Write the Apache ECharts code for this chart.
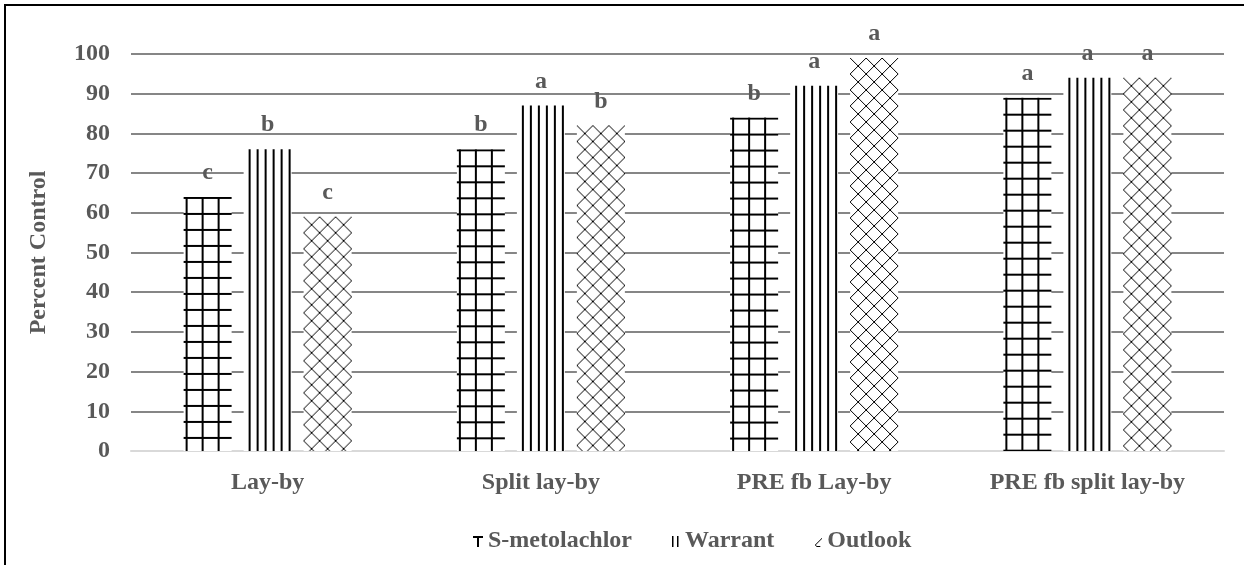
<!DOCTYPE html>
<html>
<head>
<meta charset="utf-8">
<script src="https://cdn.jsdelivr.net/npm/echarts@6/dist/echarts.min.js"></script>
<style>
  html, body { margin: 0; padding: 0; background: #fff; }
</style>
</head>
<body>
<div id="chart" style="width:1244px;height:565px"></div>
<script>
const categories = ['Lay-by', 'Split lay-by', 'PRE fb Lay-by', 'PRE fb split lay-by']
const seriesNames = ['S-metolachlor', 'Warrant', 'Outlook']
const sMetolachlor = [64, 76, 84, 89]
const warrant = [76, 87, 92, 94]
const outlook = [59, 82, 99, 94]
const sMetolachlorLetters = ['c', 'b', 'b', 'a']
const warrantLetters = ['b', 'a', 'a', 'a']
const outlookLetters = ['c', 'b', 'a', 'a']
const yMin = 0
const yMax = 100
const yInterval = 10

const FONT = "'Liberation Serif', 'Times New Roman', serif"
const TEXT_GRAY = '#595959'

function makeCanvas (w, h, draw) {
    const c = document.createElement('canvas')
    c.width = w
    c.height = h
    const ctx = c.getContext('2d')
    ctx.fillStyle = '#fff'
    ctx.fillRect(0, 0, w, h)
    ctx.fillStyle = '#000'
    draw(ctx)
    return c
}

// bar fill tiles (white ground, black strokes)
const gridTile = makeCanvas(16, 16, ctx => {
    ctx.fillRect(0, 0, 16, 2)
    ctx.fillRect(2, 0, 2, 16)
})
const stripeTile = makeCanvas(8, 8, ctx => {
    ctx.fillRect(5, 0, 2, 8)
})
const diamondTile = makeCanvas(16, 16, ctx => {
    for (let i = 0; i < 16; i++) {
        ctx.fillRect(i, i, 1, 1)
        ctx.fillRect(15 - i, i, 1, 1)
    }
})
const tiles = [gridTile, stripeTile, diamondTile]

// small legend swatches
const legendIcons = [
    makeCanvas(10, 12, ctx => {
        ctx.fillRect(0, 1, 10, 2)
        ctx.fillRect(4, 1, 2, 11)
    }),
    makeCanvas(10, 12, ctx => {
        ctx.fillRect(2, 1, 1.5, 11)
        ctx.fillRect(7, 1, 1.5, 11)
    }),
    makeCanvas(10, 12, ctx => {
        for (let i = 0; i < 5; i++) {
            ctx.fillRect(7 - i, 5 + i, 1, 1)
            ctx.fillRect(3 + i, 10 + (i > 1 ? 1 : i), 1, 1)
        }
        ctx.fillRect(8, 4, 1, 1)
        ctx.fillRect(9, 3, 1, 1)
    })
]

const values = [sMetolachlor, warrant, outlook]
const letters = [sMetolachlorLetters, warrantLetters, outlookLetters]

const chart = echarts.init(document.getElementById('chart'))

const option = {
    animation: false,
    textStyle: { fontFamily: FONT },
    graphic: [
        {
            type: 'polyline',
            shape: { points: [[5, 600], [5, 5], [1300, 5]] },
            style: { stroke: '#000', lineWidth: 2, fill: null },
            silent: true
        }
    ],
    grid: {
        left: 131,
        right: 20,
        top: 54,
        bottom: 114
    },
    legend: {
        left: 468,
        top: 524,
        itemWidth: 10,
        itemHeight: 12,
        itemGap: 38,
        data: seriesNames.map((n, k) => ({
            name: n,
            icon: 'image://' + legendIcons[k].toDataURL()
        })),
        textStyle: {
            fontFamily: FONT,
            fontWeight: 'bold',
            fontSize: 24,
            color: TEXT_GRAY
        }
    },
    xAxis: {
        type: 'category',
        data: categories,
        axisTick: { show: false },
        axisLine: {
            show: true,
            lineStyle: { color: '#d9d9d9', width: 2 }
        },
        axisLabel: {
            margin: 20,
            fontFamily: FONT,
            fontWeight: 'bold',
            fontSize: 24,
            color: TEXT_GRAY
        }
    },
    yAxis: {
        type: 'value',
        min: yMin,
        max: yMax,
        interval: yInterval,
        name: 'Percent Control',
        nameLocation: 'middle',
        nameGap: 80,
        nameRotate: 90,
        nameTextStyle: {
            fontFamily: FONT,
            fontWeight: 'bold',
            fontSize: 24,
            color: TEXT_GRAY
        },
        axisLine: { show: false },
        axisTick: { show: false },
        axisLabel: {
            margin: 21,
            fontFamily: FONT,
            fontWeight: 'bold',
            fontSize: 24,
            color: TEXT_GRAY
        },
        splitLine: {
            lineStyle: { color: '#868686', width: 2 }
        }
    },
    series: seriesNames.map((n, k) => ({
        name: n,
        type: 'bar',
        barWidth: 48,
        barGap: '25%',
        data: values[k],
        itemStyle: {
            color: { image: tiles[k], repeat: 'repeat' }
        },
        label: {
            show: true,
            position: 'top',
            distance: 12,
            formatter: p => letters[k][p.dataIndex],
            fontFamily: FONT,
            fontWeight: 'bold',
            fontSize: 24,
            color: TEXT_GRAY
        },
        emphasis: { disabled: true }
    }))
}
chart.setOption(option)

// anchor each fill pattern to its own bar's top-left corner
const model = chart.getModel()
chart.setOption({
    series: seriesNames.map((n, k) => {
        const data = model.getSeriesByIndex(k).getData()
        return {
            data: values[k].map((v, i) => {
                const r = data.getItemLayout(i)
                const top = Math.min(r.y, r.y + r.height)
                return {
                    value: v,
                    itemStyle: {
                        color: { image: tiles[k], repeat: 'repeat', x: r.x, y: top }
                    }
                }
            })
        }
    })
})
</script>
</body>
</html>
